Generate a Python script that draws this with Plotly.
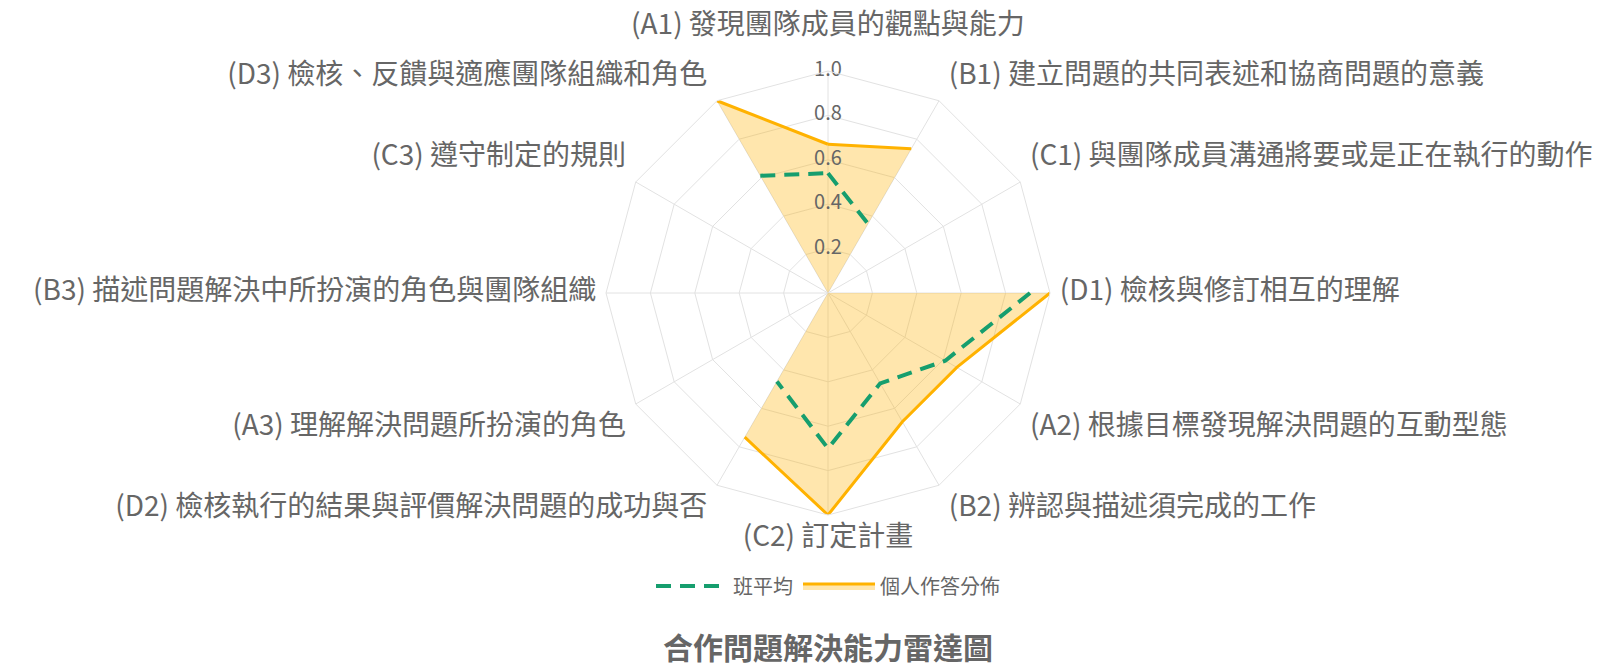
import plotly.graph_objects as go

# axes, clockwise from the top
categories = [
    "(A1) 發現團隊成員的觀點與能力",
    "(B1) 建立問題的共同表述和協商問題的意義",
    "(C1) 與團隊成員溝通將要或是正在執行的動作",
    "(D1) 檢核與修訂相互的理解",
    "(A2) 根據目標發現解決問題的互動型態",
    "(B2) 辨認與描述須完成的工作",
    "(C2) 訂定計畫",
    "(D2) 檢核執行的結果與評價解決問題的成功與否",
    "(A3) 理解解決問題所扮演的角色",
    "(B3) 描述問題解決中所扮演的角色與團隊組織",
    "(C3) 遵守制定的規則",
    "(D3) 檢核、反饋與適應團隊組織和角色",
]

# None = no answer for that axis
individual = [0.67, 0.75, None, 1.0, 0.67, 0.67, 1.0, 0.75, None, None, None, 1.0]
class_avg = [0.54, 0.36, None, 0.91, 0.61, 0.47, 0.70, 0.46, None, None, None, 0.61]

radial_ticks = [0.2, 0.4, 0.6, 0.8, 1.0]
radial_ticktext = ["0.2", "0.4", "0.6", "0.8", "1.0"]

ORANGE = "rgb(255,178,0)"
ORANGE_FILL = "rgba(255,178,0,0.32)"
GREEN = "rgb(22,158,110)"
GRID = "rgb(226,226,226)"
TEXT = "#666666"
FONT = "Noto Sans CJK TC"


def closed(values):
    return values + values[:1]


def label_position(i, n):
    """Chart.js-like anchoring of the point labels around the web"""
    deg = 360 * i / n
    v = "top" if (deg < 90 or deg > 270) else ("middle" if deg in (90, 270) else "bottom")
    h = "center" if deg in (0, 180) else ("right" if deg < 180 else "left")
    if v == "middle":
        return "middle " + h
    return v + " " + h


theta = closed(categories)

fig = go.Figure()

# filled area of the individual scores (missing axes collapse to the centre)
fig.add_trace(
    go.Scatterpolar(
        r=closed([v if v is not None else 0 for v in individual]),
        theta=theta,
        mode="lines",
        fill="toself",
        fillcolor=ORANGE_FILL,
        line=dict(color=ORANGE, width=0),
        legendgroup="ind",
        showlegend=False,
        hoverinfo="skip",
    )
)
# outline of the individual scores, broken where there is no answer
fig.add_trace(
    go.Scatterpolar(
        r=closed(individual),
        theta=theta,
        mode="lines",
        line=dict(color=ORANGE, width=3),
        connectgaps=False,
        legendgroup="ind",
        showlegend=False,
        name="個人作答分佈",
    )
)
# legend entry for the individual scores (fill + border)
fig.add_trace(
    go.Scatterpolar(
        r=[None],
        theta=[None],
        mode="lines",
        fill="toself",
        fillcolor=ORANGE_FILL,
        line=dict(color=ORANGE, width=3),
        legendgroup="ind",
        name="個人作答分佈",
        legendrank=2,
    )
)
fig.add_trace(
    go.Scatterpolar(
        r=closed(class_avg),
        theta=theta,
        mode="lines",
        line=dict(color=GREEN, width=4, dash="15px,9px"),
        connectgaps=False,
        name="班平均",
        legendrank=1,
    )
)
# radial tick labels centred on the top spoke
fig.add_trace(
    go.Scatterpolar(
        r=radial_ticks,
        theta=[categories[0]] * len(radial_ticks),
        mode="text",
        text=radial_ticktext,
        textfont=dict(family=FONT, size=20, color=TEXT),
        textposition="middle center",
        showlegend=False,
        hoverinfo="skip",
    )
)

# point labels at the outer ring; the first one is pushed further out
n = len(categories)
positions = [label_position(i, n) for i in range(n)]
for idxs, pad in (([0], 46), (list(range(1, n)), 14)):
    fig.add_trace(
        go.Scatterpolar(
            r=[radial_ticks[-1]] * len(idxs),
            theta=[categories[i] for i in idxs],
            mode="markers+text",
            text=[categories[i] for i in idxs],
            textposition=[positions[i] for i in idxs],
            textfont=dict(family=FONT, size=28, color=TEXT),
            marker=dict(size=pad, color="rgba(0,0,0,0)"),
            cliponaxis=False,
            showlegend=False,
            hoverinfo="skip",
        )
    )

W, H = 1615, 667
cx, cy, R = 828, 293, 222

fig.update_layout(
    width=W,
    height=H,
    paper_bgcolor="white",
    margin=dict(l=0, r=0, t=0, b=0),
    font=dict(family=FONT, color=TEXT),
    polar=dict(
        domain=dict(
            x=[(cx - R) / W, (cx + R) / W],
            y=[(H - cy - R) / H, (H - cy + R) / H],
        ),
        gridshape="linear",
        bgcolor="white",
        radialaxis=dict(
            range=[0, 1],
            tickvals=radial_ticks,
            showticklabels=False,
            ticks="",
            showline=False,
            gridcolor=GRID,
            gridwidth=1,
            angle=90,
        ),
        angularaxis=dict(
            direction="clockwise",
            rotation=90,
            gridcolor=GRID,
            linecolor=GRID,
            linewidth=1,
            ticks="",
            showticklabels=False,
        ),
    ),
    legend=dict(
        orientation="h",
        x=cx / W,
        xanchor="center",
        y=1 - 586 / H,
        yanchor="middle",
        font=dict(family=FONT, size=20, color=TEXT),
        itemwidth=72,
        traceorder="normal",
    ),
    annotations=[
        dict(
            text="<b>合作問題解決能力雷達圖</b>",
            x=cx / W,
            xref="paper",
            xanchor="center",
            y=(H - 646) / H,
            yref="paper",
            yanchor="middle",
            showarrow=False,
            font=dict(family=FONT, size=30, color=TEXT),
        )
    ],
)

fig.write_html(
    "out.html",
    config={"displayModeBar": False},
    post_script="document.body.style.margin='0';document.body.style.overflow='hidden';",
)
